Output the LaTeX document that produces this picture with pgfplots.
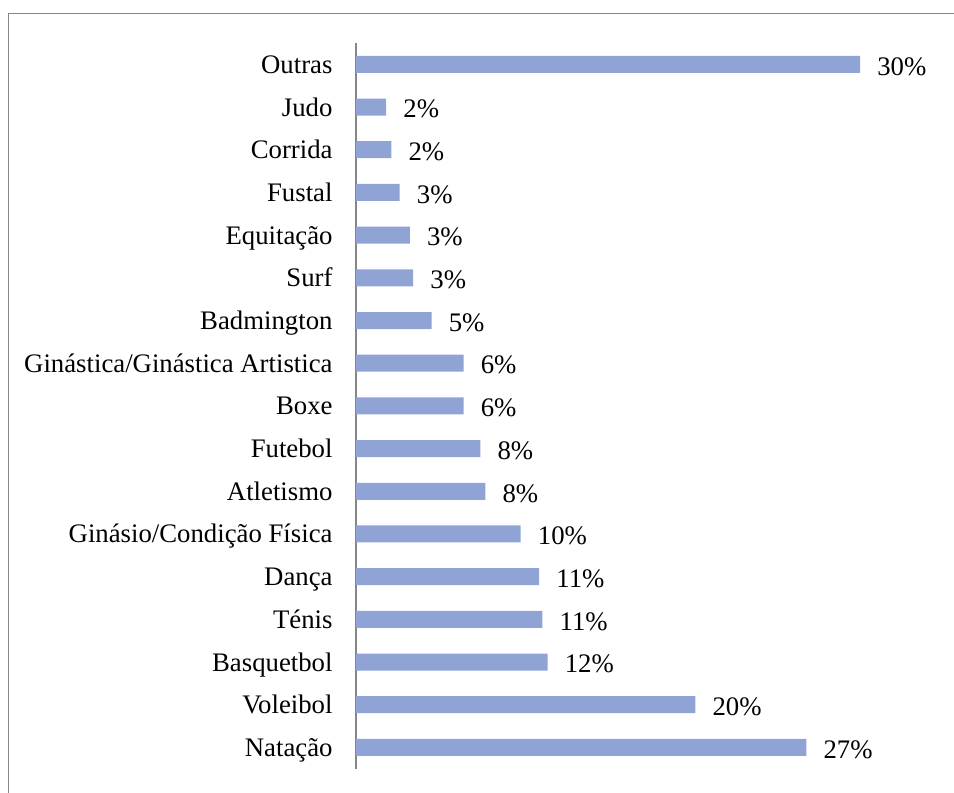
\documentclass[border=0pt]{standalone}
\usepackage{pgfplots}
\pgfplotsset{compat=1.18}
\usepackage{fontspec}
\setmainfont{Liberation Serif}
\definecolor{barblue}{RGB}{143,164,212}
\definecolor{framegray}{RGB}{134,134,134}

% share of respondents per sport (%), bottom to top
\pgfplotstableread{
y  val   lab
0  26.8  27
1  20.2  20
2  11.4  12
3  11.1  11
4  10.9  11
5  9.8   10
6  7.7   8
7  7.4   8
8  6.4   6
9  6.4   6
10 4.5   5
11 3.4   3
12 3.2   3
13 2.6   3
14 2.1   2
15 1.8   2
16 30.0  30
}\sportdata

\begin{document}
\begin{tikzpicture}
  \draw[framegray, line width=0.5pt] (3.3pt,-330pt) -- (3.3pt,-5.3pt) -- (390pt,-5.3pt);
  \begin{axis}[
      at={(142.4pt,-17.2pt)}, anchor=north west,
      scale only axis,
      width=235.2pt, height=290.3pt,
      xbar, bar width=6.8pt,
      xmin=0, xmax=35, ymin=-0.5, ymax=16.5,
      axis x line=none, axis y line*=left,
      y axis line style={framegray, line width=0.5pt},
      major tick length=0pt,
      ytick={0,...,16},
      yticklabels={Natação, Voleibol, Basquetbol, Ténis, Dança,
        Ginásio/Condição Física, Atletismo, Futebol, Boxe,
        Ginástica/Ginástica Artistica, Badmington, Surf, Equitação,
        Fustal, Corrida, Judo, Outras},
      y tick label style={anchor=base east, inner sep=0pt, xshift=-9.2pt,
        yshift=-3.6pt, font=\fontsize{10.7}{13}\selectfont},
      point meta=explicit symbolic,
      nodes near coords={\pgfplotspointmeta\%},
      every node near coord/.append style={anchor=base west, inner sep=0pt,
        xshift=6.7pt, yshift=-4.3pt, font=\fontsize{10.7}{13}\selectfont},
    ]
    \addplot[fill=barblue, draw=none] table[x=val, y=y, meta=lab] {\sportdata};
  \end{axis}
  \pgfresetboundingbox
  \useasboundingbox (0,0) rectangle (381.6pt,-316.8pt);
\end{tikzpicture}
\end{document}
